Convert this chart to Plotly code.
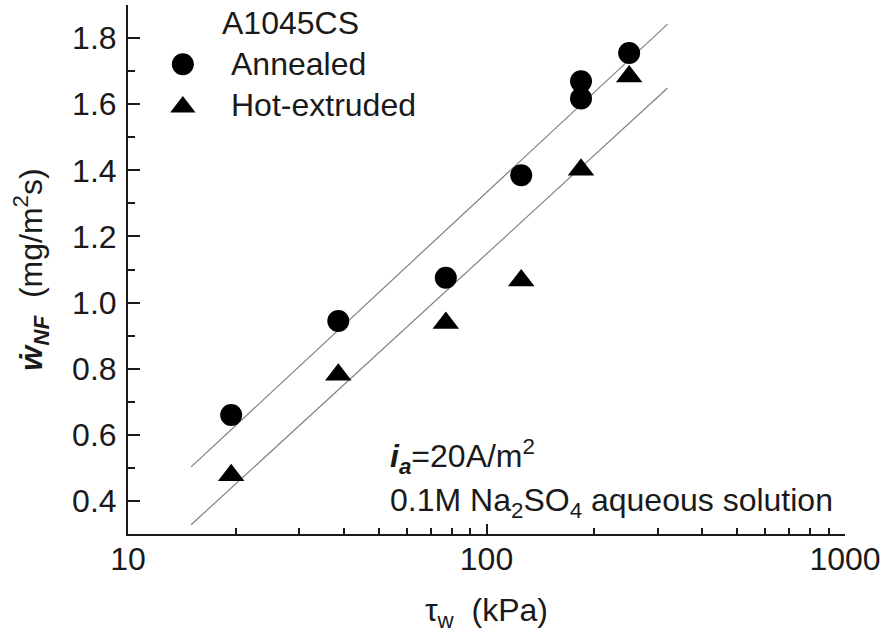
import plotly.graph_objects as go

# Wall shear stress (kPa) and non-Faradaic mass-loss rate (mg/m^2 s)
tau_annealed = [19.4, 38.6, 77, 125, 183.5, 183.5, 250]
w_annealed = [0.660, 0.944, 1.075, 1.385, 1.669, 1.617, 1.755]

tau_extruded = [19.4, 38.6, 77, 125, 183.5, 250]
w_extruded = [0.478, 0.782, 0.938, 1.067, 1.402, 1.684]

# Straight-line fits (linear in log tau)
fit_tau = [15, 320]
fit_annealed = [0.503, 1.842]
fit_extruded = [0.328, 1.649]

FONT = "Liberation Sans, Arial, sans-serif"
FS = 32

fig = go.Figure()

for yv in (fit_annealed, fit_extruded):
    fig.add_trace(go.Scatter(x=fit_tau, y=yv, mode="lines",
                             line=dict(color="#808080", width=1.2),
                             showlegend=False, hoverinfo="skip"))

fig.add_trace(go.Scatter(x=tau_annealed, y=w_annealed, mode="markers",
                         marker=dict(symbol="circle", size=22, color="black"),
                         name="Annealed", showlegend=False))
fig.add_trace(go.Scatter(x=tau_extruded, y=w_extruded, mode="markers",
                         marker=dict(symbol="triangle-up", size=23, color="black"),
                         name="Hot-extruded", showlegend=False))

# Legend keys drawn on a hidden unit overlay axis
key_x = [0.0765]
fig.add_trace(go.Scatter(x=key_x, y=[0.888], xaxis="x2", yaxis="y2", mode="markers",
                         marker=dict(symbol="circle", size=22, color="black"),
                         showlegend=False, hoverinfo="skip", cliponaxis=False))
fig.add_trace(go.Scatter(x=key_x, y=[0.807], xaxis="x2", yaxis="y2", mode="markers",
                         marker=dict(symbol="triangle-up", size=22, color="black"),
                         showlegend=False, hoverinfo="skip", cliponaxis=False))

axis_common = dict(
    showline=True, linecolor="#1a1a1a", linewidth=2, mirror=False,
    ticks="inside", tickcolor="#1a1a1a", tickwidth=2, showgrid=False,
    zeroline=False, tickfont=dict(family=FONT, size=FS, color="#1a1a1a"),
)

fig.update_layout(
    width=886, height=641,
    margin=dict(l=128, r=39, t=5, b=107),
    paper_bgcolor="white", plot_bgcolor="white",
    font=dict(family=FONT, size=FS, color="#1a1a1a"),
    xaxis=dict(type="log", range=[1, 3], dtick=1, ticklen=10, ticklabelstandoff=-4,
               minor=dict(ticks="inside", ticklen=6, tickcolor="#1a1a1a", tickwidth=1.5, showgrid=False),
               title=dict(text="τ<sub>w</sub>\u00a0\u00a0(kPa)", standoff=22,
                          font=dict(family=FONT, size=FS)),
               **axis_common),
    yaxis=dict(range=[0.3, 1.9], dtick=0.2, tick0=0.4, tickformat=".1f", ticklen=12,
               ticklabelstandoff=3,
               minor=dict(ticks="inside", ticklen=7, tickcolor="#1a1a1a", tickwidth=1.5, dtick=0.1, showgrid=False),
               title=dict(text="<b><i>ẇ<sub>NF</sub></i></b>\u00a0\u00a0(mg/m<sup>2</sup>s)", standoff=20,
                          font=dict(family=FONT, size=FS)),
               **axis_common),
    xaxis2=dict(overlaying="x", range=[0, 1], visible=False, fixedrange=True),
    yaxis2=dict(overlaying="y", range=[0, 1], visible=False, fixedrange=True),
    showlegend=False,
)

annotations = [
    dict(text="A1045CS", x=(220 - 128) / 719, y=0.966, xanchor="left", yanchor="middle"),
    dict(text="Annealed", x=(229 - 128) / 719, y=0.888, xanchor="left", yanchor="middle"),
    dict(text="Hot-extruded", x=(229 - 128) / 719, y=0.811, xanchor="left", yanchor="middle"),
    dict(text="<b><i>i<sub>a</sub></i></b>=20A/m<sup>2</sup>", x=0.362, y=0.147,
         xanchor="left", yanchor="middle"),
    dict(text="0.1M Na<sub>2</sub>SO<sub>4</sub> aqueous solution", x=0.362, y=0.060,
         xanchor="left", yanchor="middle"),
]
for a in annotations:
    a.update(xref="paper", yref="paper", showarrow=False,
             font=dict(family=FONT, size=FS, color="#1a1a1a"))
fig.update_layout(annotations=annotations)

fig.write_html("out.html")
